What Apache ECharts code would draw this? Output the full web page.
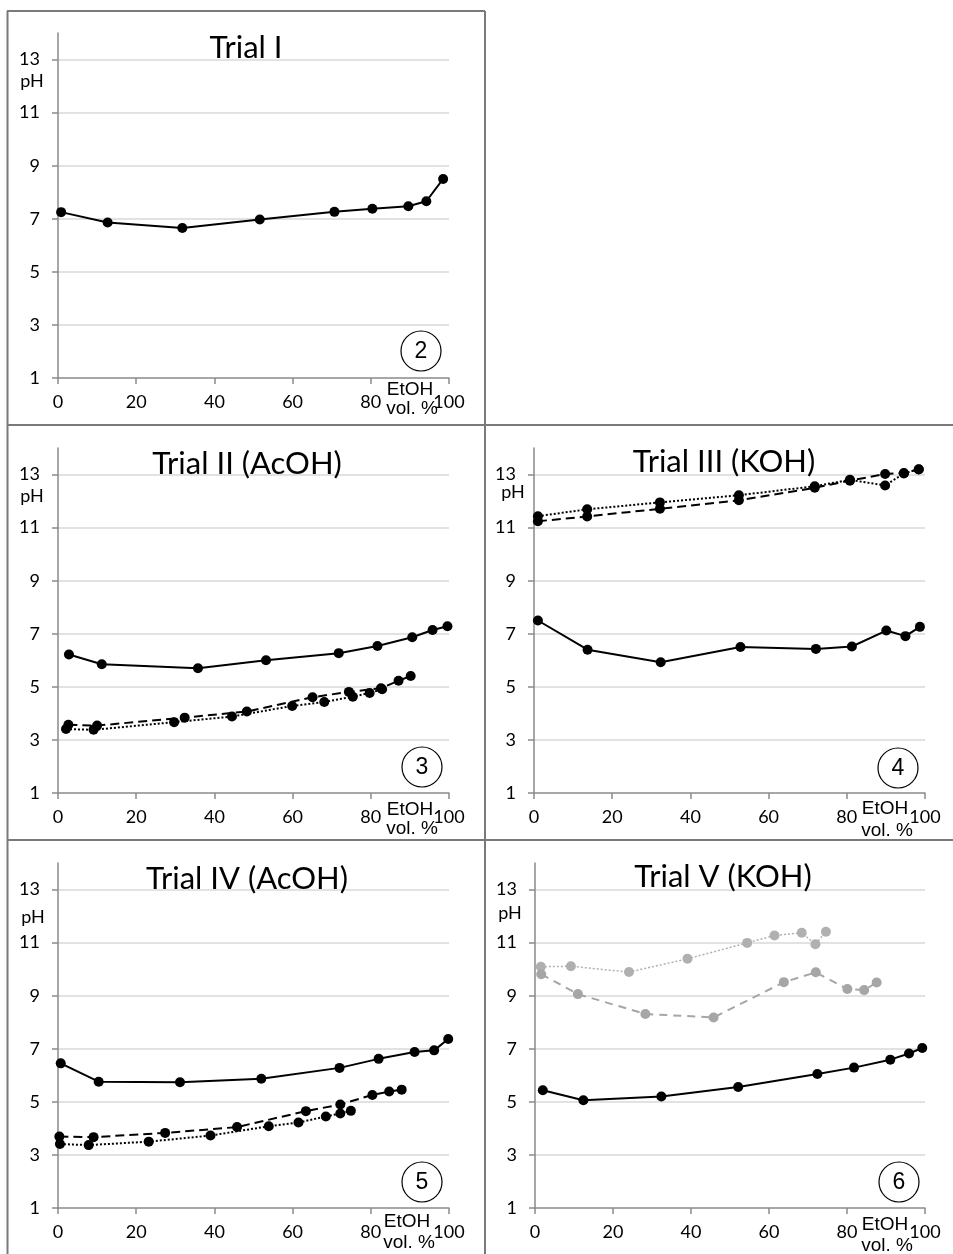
<!DOCTYPE html>
<html>
<head>
<meta charset="utf-8">
<script src="https://cdn.jsdelivr.net/npm/echarts@6/dist/echarts.min.js"></script>
<style>
html,body{margin:0;padding:0;background:#fff;}
#c{width:953px;height:1254px;}
</style>
</head>
<body>
<div id="c"></div>
<script>
// ---- data (EtOH vol. % , pH) ----
const xTickValues = [0, 20, 40, 60, 80, 100];
const yTickValues = [1, 3, 5, 7, 9, 11, 13];

const trial1X = [0.8, 12.7, 31.8, 51.6, 70.7, 80.4, 89.6, 94.2, 98.5];
const trial1Y = [7.25, 6.86, 6.65, 6.97, 7.26, 7.38, 7.47, 7.66, 8.5];

const trial2SolidX = [2.8, 11.2, 35.8, 53.2, 71.8, 81.7, 90.6, 95.8, 99.6];
const trial2SolidY = [6.22, 5.85, 5.70, 6.00, 6.27, 6.54, 6.87, 7.14, 7.28];
const trial2DashX = [2.65, 10.0, 32.4, 48.3, 65.1, 74.4, 82.6, 87.1, 90.2];
const trial2DashY = [3.57, 3.54, 3.84, 4.07, 4.61, 4.81, 4.95, 5.23, 5.41];
const trial2DotX = [2.05, 9.1, 29.7, 44.5, 59.9, 68.1, 75.4, 79.7, 82.9];
const trial2DotY = [3.41, 3.38, 3.67, 3.88, 4.28, 4.43, 4.63, 4.77, 4.91];

const trial3SolidX = [1.0, 13.7, 32.4, 52.8, 72.1, 81.3, 90.1, 95.0, 98.7];
const trial3SolidY = [7.5, 6.4, 5.93, 6.5, 6.43, 6.52, 7.12, 6.91, 7.26];
const trial3DashX = [1.0, 13.6, 32.2, 52.4, 71.8, 80.8, 89.8, 94.6, 98.4];
const trial3DashY = [11.24, 11.42, 11.71, 12.03, 12.5, 12.77, 13.02, 13.06, 13.19];
const trial3DotX = [1.0, 13.6, 32.2, 52.4, 71.8, 80.8, 89.8, 94.6, 98.4];
const trial3DotY = [11.43, 11.69, 11.95, 12.22, 12.56, 12.8, 12.59, 13.04, 13.2];

const trial4SolidX = [0.7, 10.4, 31.2, 52.0, 72.0, 82.0, 91.2, 96.2, 99.8];
const trial4SolidY = [6.45, 5.76, 5.74, 5.87, 6.28, 6.62, 6.88, 6.94, 7.37];
const trial4DashX = [0.35, 9.1, 27.4, 45.8, 63.4, 72.2, 80.4, 84.7, 87.9];
const trial4DashY = [3.69, 3.67, 3.83, 4.05, 4.65, 4.90, 5.26, 5.39, 5.46];
const trial4DotX = [0.5, 7.85, 23.2, 39.0, 53.9, 61.5, 68.5, 72.2, 74.9];
const trial4DotY = [3.41, 3.37, 3.50, 3.73, 4.08, 4.22, 4.45, 4.56, 4.66];

const trial5SolidX = [2.0, 12.4, 32.4, 52.1, 72.4, 81.8, 91.1, 95.9, 99.3];
const trial5SolidY = [5.44, 5.06, 5.2, 5.56, 6.05, 6.29, 6.59, 6.82, 7.03];
const trial5DotX = [1.5, 9.2, 24.1, 39.1, 54.4, 61.4, 68.4, 71.9, 74.6];
const trial5DotY = [10.09, 10.11, 9.89, 10.39, 10.99, 11.27, 11.37, 10.94, 11.41];
const trial5DashX = [1.6, 11.0, 28.3, 45.8, 63.8, 72.0, 80.1, 84.4, 87.6];
const trial5DashY = [9.81, 9.06, 8.31, 8.18, 9.51, 9.88, 9.25, 9.21, 9.50];

const panelTitles = ['Trial I', 'Trial II (AcOH)', 'Trial III (KOH)', 'Trial IV (AcOH)', 'Trial V (KOH)'];
const panelNumbers = ['2', '3', '4', '5', '6'];
const yAxisLabel = 'pH';
const xAxisLabelLines = ['EtOH', 'vol. %'];

// ---- styles ----
const STY = {
  solid: {color: '#000', type: 'solid', width: 2, size: 10},
  dash: {color: '#000', type: [9, 5], width: 2, size: 10},
  dot: {color: '#000', type: [2, 2], width: 2, size: 10},
  gdash: {color: '#a6a6a6', type: [8, 6], width: 2, size: 10},
  gdot: {color: '#b0b0b0', type: [2, 2], width: 1.5, size: 10}
};

// ---- layout ----
const panels = [
  {grid: {left: 58, top: 33, width: 391, height: 345},
   titleX: 246, titleY: 48, phX: 32, phY: 81, circX: 421, circY: 351, etohX: 410, etohDy: 12, volDy: 31,
   series: [[trial1X, trial1Y, 'solid']]},
  {grid: {left: 58, top: 448, width: 391, height: 345},
   titleX: 247, titleY: 464, phX: 32, phY: 496, circX: 422, circY: 767, etohX: 410, etohDy: 17, volDy: 36,
   series: [[trial2DotX, trial2DotY, 'dot'], [trial2DashX, trial2DashY, 'dash'], [trial2SolidX, trial2SolidY, 'solid']]},
  {grid: {left: 534, top: 448, width: 391, height: 345},
   titleX: 724, titleY: 462, phX: 513, phY: 492, circX: 898, circY: 768, etohX: 885, etohDy: 16, volDy: 38,
   series: [[trial3DotX, trial3DotY, 'dot'], [trial3DashX, trial3DashY, 'dash'], [trial3SolidX, trial3SolidY, 'solid']]},
  {grid: {left: 58, top: 863, width: 391, height: 345},
   titleX: 247, titleY: 879, phX: 33, phY: 917, circX: 422, circY: 1182, etohX: 407, etohDy: 14, volDy: 35,
   series: [[trial4DotX, trial4DotY, 'dot'], [trial4DashX, trial4DashY, 'dash'], [trial4SolidX, trial4SolidY, 'solid']]},
  {grid: {left: 535, top: 863, width: 390, height: 345},
   titleX: 723, titleY: 877, phX: 510, phY: 913, circX: 899, circY: 1182, etohX: 885, etohDy: 17, volDy: 38,
   series: [[trial5DotX, trial5DotY, 'gdot'], [trial5DashX, trial5DashY, 'gdash'], [trial5SolidX, trial5SolidY, 'solid']]}
];

const AXIS_COLOR = '#8a8a8a';
const GRID_COLOR = '#d9d9d9';
const NUM_FONT = 'Lato';
const TXT_FONT = '"Liberation Sans", Arial, sans-serif';

const grids = [], xAxes = [], yAxes = [], series = [], graphics = [];

panels.forEach((p, i) => {
  grids.push(Object.assign({containLabel: false}, p.grid));
  xAxes.push({
    type: 'value', gridIndex: i, min: xTickValues[0], max: xTickValues[xTickValues.length - 1], interval: 20,
    axisLine: {show: true, onZero: false, lineStyle: {color: AXIS_COLOR, width: 1.5}},
    axisTick: {show: true, inside: false, length: 6, lineStyle: {color: AXIS_COLOR, width: 1.5}},
    axisLabel: {show: true, margin: 15, color: '#000', fontFamily: NUM_FONT, fontSize: 18},
    splitLine: {show: false}
  });
  yAxes.push({
    type: 'value', gridIndex: i, min: 1, max: 14, interval: 2,
    axisLine: {show: true, onZero: false, lineStyle: {color: AXIS_COLOR, width: 1.5}},
    axisTick: {show: true, inside: false, length: 6, lineStyle: {color: AXIS_COLOR, width: 1.5}},
    axisLabel: {show: true, margin: 18, color: '#000', fontFamily: NUM_FONT, fontSize: 18, showMaxLabel: false,
      formatter: v => (yTickValues.indexOf(v) >= 0 ? String(v) : '')},
    splitLine: {show: true, showMinLine: false, showMaxLine: false, lineStyle: {color: GRID_COLOR, width: 1.5}}
  });
  p.series.forEach(([xs, ys, k]) => {
    const s = STY[k];
    series.push({
      type: 'line', xAxisIndex: i, yAxisIndex: i,
      data: xs.map((x, j) => [x, ys[j]]),
      symbol: 'circle', symbolSize: s.size, showSymbol: true,
      lineStyle: {color: s.color, type: s.type, width: s.width},
      itemStyle: {color: s.color, borderWidth: 0},
      z: 3
    });
  });
  // title
  graphics.push({type: 'text', x: p.titleX, y: p.titleY, z: 1,
    style: {text: panelTitles[i], fill: '#000', font: '31px ' + NUM_FONT, align: 'center', verticalAlign: 'middle'}});
  // pH label
  graphics.push({type: 'text', x: p.phX, y: p.phY,
    style: {text: yAxisLabel, fill: '#000', font: '18px ' + NUM_FONT, align: 'center', verticalAlign: 'middle'}});
  // EtOH vol. %
  const axisY = p.grid.top + p.grid.height;
  graphics.push({type: 'text', x: p.etohX, y: axisY + p.etohDy, z: 10,
    style: {text: xAxisLabelLines[0], fill: '#000', font: '19px ' + TXT_FONT, align: 'center', verticalAlign: 'middle'}});
  graphics.push({type: 'text', x: p.etohX + 2, y: axisY + p.volDy, z: 10,
    style: {text: xAxisLabelLines[1], fill: '#000', font: '19px ' + TXT_FONT, align: 'center', verticalAlign: 'middle'}});
  // circled panel number
  graphics.push({type: 'circle', shape: {cx: p.circX, cy: p.circY, r: 20},
    style: {fill: '#fff', stroke: '#000', lineWidth: 1.2}});
  graphics.push({type: 'text', x: p.circX, y: p.circY + 1,
    style: {text: panelNumbers[i], fill: '#000', font: '23px ' + TXT_FONT, align: 'center', verticalAlign: 'middle'}});
});

// panel borders
const B = '#7a7a7a';
[[7.5, 11, 7.5, 1254], [7, 11, 485, 11], [485, 11, 485, 1254], [7, 425, 953, 425], [7, 840, 953, 840]]
  .forEach(([x1, y1, x2, y2]) => graphics.push({type: 'line', shape: {x1, y1, x2, y2}, style: {stroke: B, lineWidth: 2}, z: 20}));

const chart = echarts.init(document.getElementById('c'), null, {renderer: 'canvas'});
chart.setOption({
  animation: false,
  backgroundColor: '#fff',
  grid: grids,
  xAxis: xAxes,
  yAxis: yAxes,
  series: series,
  graphic: graphics
});
</script>
</body>
</html>
